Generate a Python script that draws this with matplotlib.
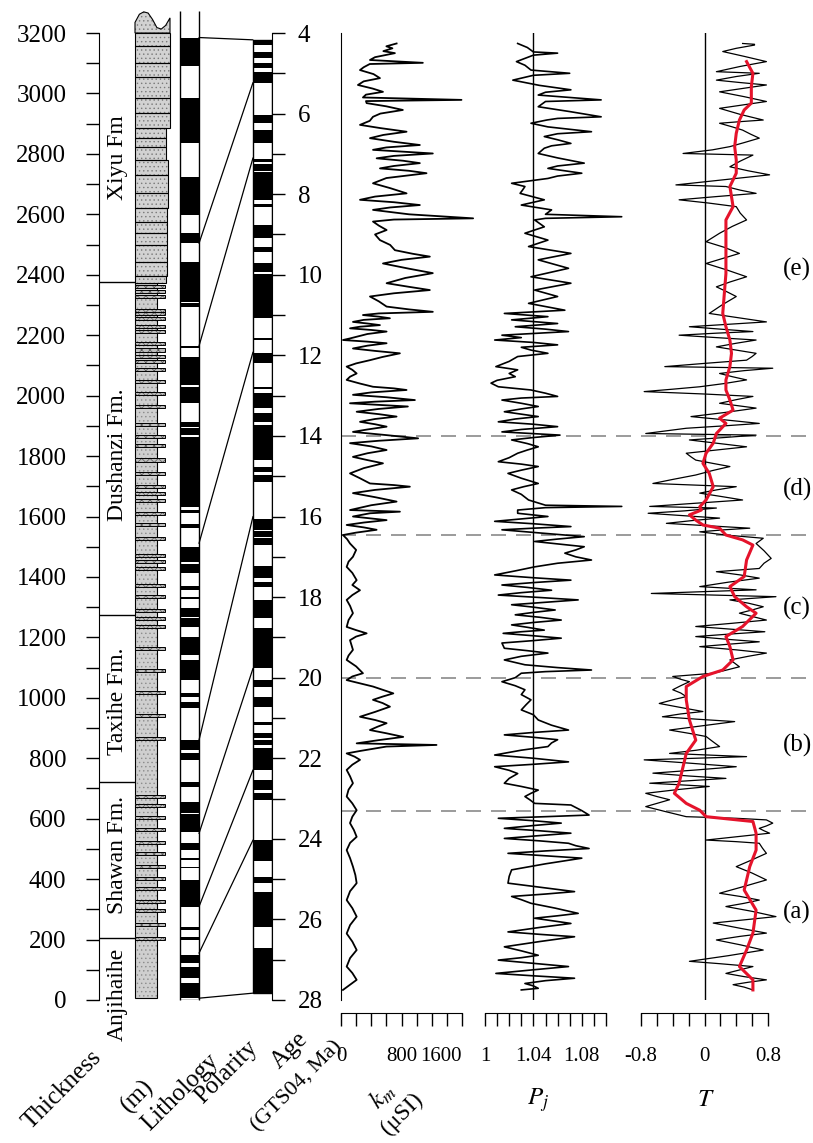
import numpy as np
import matplotlib.pyplot as plt
from matplotlib.patches import Rectangle, Polygon, ConnectionPatch

plt.rcParams['font.family'] = ['Liberation Serif', 'DejaVu Serif']
plt.rcParams['mathtext.fontset'] = 'stix'
plt.rcParams['hatch.linewidth'] = 0.5

# ---------------- data ----------------
# formation boundaries (m) and labels
fm_bounds = [205, 720, 1275, 2375]
fm_names = ['Anjihaihe', 'Shawan Fm.', 'Taxihe Fm.', 'Dushanzi Fm.', 'Xiyu Fm']
fm_label_m = [18, 480, 988, 1805, 2789]

# Xiyu Fm beds (m): bed bottoms and right edge of bed
xiyu_bot = [2372, 2396, 2443, 2498, 2537, 2575, 2620, 2669, 2730, 2780, 2824, 2851, 2884, 2934, 2984, 3055, 3102, 3157]
xiyu_top = [2396, 2443, 2498, 2537, 2575, 2620, 2669, 2730, 2780, 2824, 2851, 2884, 2934, 2984, 3055, 3102, 3157, 3200]
xiyu_w = [31, 32, 32, 32, 32, 32, 33, 33, 33, 31, 31, 31, 35, 35, 35, 35, 35, 35]
# irregular top of the section (m)
xiyu_crest = [3235, 3262, 3270, 3266, 3245, 3218, 3213, 3225, 3250]

# thin sandstone beds in the lower part (m)
sand_beds = [2361, 2344, 2327, 2283, 2272, 2256, 2228, 2211, 2173, 2151, 2131, 2112, 2085, 2046,
             2008, 1963, 1903, 1864, 1834, 1787, 1743, 1698, 1676, 1654, 1610, 1572, 1527, 1472,
             1450, 1428, 1373, 1334, 1290, 1263, 1235, 1163, 1091, 1017, 943, 866, 673, 643, 604,
             563, 522, 484, 442, 403, 370, 326, 296, 251, 204]

# local magnetostratigraphy, normal intervals (bottom, top) in m
pol_bot = [3091, 2837, 2598, 2504, 2310, 2292, 2157, 2035, 1975, 1897, 1870, 1632, 1612, 1561, 1450,
           1412, 1357, 1326, 1268, 1235, 1142, 1059, 1004, 965, 827, 794, 706, 620, 557, 496, 463,
           436, 309, 232, 199, 121, 72, 6]
pol_top = [3185, 2984, 2724, 2537, 2443, 2305, 2164, 2129, 2027, 1914, 1892, 1862, 1621, 1575, 1500,
           1443, 1370, 1335, 1296, 1264, 1202, 1125, 1015, 987, 860, 817, 722, 656, 615, 518, 469,
           441, 397, 243, 209, 149, 110, 55]

# GTS04 normal chrons (young, old) in Ma
gpts_y = [4.17, 4.46, 4.75, 4.96, 6.04, 6.41, 7.13, 7.25, 7.45, 8.24, 8.77, 9.30, 9.72, 9.98, 11.58,
          11.95, 12.78, 12.93, 13.43, 13.73, 14.76, 14.97, 16.05, 16.36, 16.53, 17.24, 17.62, 18.07,
          18.77, 20.06, 20.47, 21.09, 21.38, 21.55, 21.75, 22.54, 22.87, 24.03, 24.94, 25.31, 26.72]
gpts_o = [4.30, 4.63, 4.88, 5.23, 6.23, 6.74, 7.21, 7.43, 8.14, 8.31, 9.10, 9.43, 9.94, 11.08, 11.62,
          12.20, 12.84, 13.31, 13.65, 14.60, 14.89, 15.14, 16.33, 16.50, 16.71, 17.53, 17.74, 18.53,
          19.77, 20.22, 20.72, 21.17, 21.50, 21.67, 22.29, 22.79, 23.03, 24.56, 25.10, 26.18, 27.83]

# tie lines: thickness (m) <-> age (Ma)
tie_m = [3185, 2504, 2164, 1511, 860, 551, 309, 155, 6]
tie_age = [4.17, 5.23, 7.10, 11.92, 16.0, 19.77, 22.29, 24.03, 27.83]

# boundaries of intervals (a)-(e) in Ma
zone_bounds = [14.0, 16.45, 20.0, 23.3]
zone_names = ['(e)', '(d)', '(c)', '(b)', '(a)']
zone_label_age = [9.88, 15.34, 18.27, 21.67, 25.82]

# bulk susceptibility km (uSI)
km_age = [4.26, 4.33, 4.38, 4.45, 4.50, 4.60, 4.67, 4.74, 4.77, 4.85, 4.92, 5.02, 5.12, 5.20, 5.29, 5.38,
          5.46, 5.53, 5.60, 5.66, 5.69, 5.74, 5.82, 5.91, 6.00, 6.08, 6.18, 6.28, 6.36, 6.45, 6.53, 6.61,
          6.70, 6.78, 6.84, 6.90, 6.99, 7.05, 7.11, 7.17, 7.23, 7.30, 7.36, 7.42, 7.48, 7.60, 7.73, 7.85,
          7.98, 8.06, 8.14, 8.20, 8.27, 8.33, 8.39, 8.50, 8.60, 8.63, 8.68, 8.78, 8.89, 9.00, 9.14, 9.26,
          9.39, 9.48, 9.55, 9.63, 9.72, 9.85, 9.96, 10.08, 10.21, 10.30, 10.38, 10.46, 10.54, 10.66, 10.79,
          10.86, 10.92, 10.96, 11.00, 11.04, 11.08, 11.12, 11.17, 11.21, 11.25, 11.29, 11.33, 11.37, 11.41,
          11.47, 11.54, 11.58, 11.62, 11.66, 11.70, 11.76, 11.83, 11.89, 11.95, 12.04, 12.12, 12.20, 12.28,
          12.36, 12.45, 12.53, 12.61, 12.70, 12.78, 12.82, 12.86, 12.92, 12.98, 13.04, 13.11, 13.15, 13.19,
          13.23, 13.27, 13.33, 13.40, 13.46, 13.52, 13.58, 13.65, 13.71, 13.77, 13.84, 13.90, 13.98, 14.06,
          14.12, 14.18, 14.26, 14.35, 14.43, 14.52, 14.60, 14.68, 14.80, 14.93, 15.05, 15.18, 15.22, 15.26,
          15.34, 15.42, 15.52, 15.63, 15.72, 15.84, 15.88, 15.92, 16.00, 16.05, 16.09, 16.15, 16.21, 16.27,
          16.33, 16.40, 16.46, 16.56, 16.67, 16.83, 17.00, 17.12, 17.25, 17.40, 17.58, 17.70, 17.83, 17.95,
          18.07, 18.22, 18.40, 18.57, 18.74, 18.82, 18.90, 18.98, 19.07, 19.20, 19.31, 19.45, 19.56, 19.72,
          19.89, 19.97, 20.06, 20.14, 20.22, 20.30, 20.39, 20.47, 20.55, 20.63, 20.72, 20.85, 20.97, 21.05,
          21.13, 21.22, 21.30, 21.38, 21.47, 21.55, 21.63, 21.67, 21.71, 21.75, 21.82, 21.88, 21.96, 22.04,
          22.16, 22.29, 22.45, 22.62, 22.78, 22.95, 23.12, 23.29, 23.45, 23.61, 23.78, 23.95, 24.10, 24.28,
          24.48, 24.69, 24.90, 25.10, 25.30, 25.52, 25.72, 25.93, 26.14, 26.35, 26.55, 26.76, 26.96, 27.17,
          27.33, 27.50, 27.62, 27.75]
km_val = [735, 600, 680, 560, 713, 450, 383, 1082, 380, 300, 251, 430, 515, 300, 224, 420,
          555, 330, 290, 1593, 330, 339, 600, 818, 520, 423, 380, 251, 520, 867, 560, 383,
          700, 1043, 600, 423, 1214, 700, 471, 820, 1043, 700, 515, 900, 1131, 600, 423, 650,
          867, 450, 251, 700, 1043, 650, 423, 900, 1747, 700, 423, 500, 603, 450, 515, 650,
          713, 950, 1175, 800, 555, 900, 1214, 850, 603, 900, 1175, 700, 383, 500, 603,
          900, 1214, 500, 290, 500, 647, 300, 158, 350, 515, 250, 119, 400, 603,
          350, 207, 120, 26, 350, 603, 350, 158, 450, 779, 550, 383, 200, 75,
          150, 207, 120, 75, 250, 423, 700, 867, 400, 158, 600, 977, 450, 119,
          500, 884, 500, 207, 500, 735, 450, 251, 450, 603, 350, 158, 600, 1020,
          500, 119, 400, 603, 350, 158, 350, 555, 300, 119, 250, 383, 700, 911,
          450, 158, 450, 735, 400, 119, 779, 383, 158, 400, 603, 300, 75, 300,
          471, 200, 26, 80, 119, 200, 158, 100, 75, 150, 207, 150, 251, 150,
          75, 120, 158, 100, 75, 200, 339, 200, 119, 140, 158, 100, 75, 200,
          290, 150, 75, 250, 423, 550, 692, 550, 423, 550, 647, 450, 251, 450,
          603, 480, 383, 600, 823, 500, 207, 1263, 600, 471, 250, 75, 180, 251,
          150, 75, 120, 158, 100, 75, 150, 207, 150, 119, 170, 207, 120, 75,
          120, 158, 190, 207, 120, 75, 150, 207, 120, 75, 150, 207, 120, 75,
          150, 207, 120, 26]

# degree of anisotropy Pj
pj_age = [4.26, 4.36, 4.47, 4.50, 4.55, 4.71, 4.80, 4.92, 5.00, 5.05, 5.17, 5.30, 5.41, 5.47, 5.54, 5.66,
          5.70, 5.83, 5.95, 6.08, 6.12, 6.16, 6.24, 6.33, 6.45, 6.50, 6.57, 6.65, 6.74, 6.80, 6.86, 6.99,
          7.10, 7.23, 7.30, 7.36, 7.48, 7.55, 7.61, 7.73, 7.81, 7.90, 7.98, 8.14, 8.27, 8.39, 8.50, 8.56,
          8.60, 8.64, 8.81, 8.97, 9.14, 9.30, 9.47, 9.63, 9.84, 10.05, 10.21, 10.38, 10.54, 10.71, 10.88,
          10.96, 11.04, 11.12, 11.21, 11.29, 11.35, 11.41, 11.50, 11.56, 11.62, 11.68, 11.74, 11.80, 11.87,
          11.95, 12.03, 12.15, 12.28, 12.36, 12.45, 12.53, 12.62, 12.69, 12.78, 12.86, 12.94, 13.02, 13.06,
          13.11, 13.19, 13.27, 13.33, 13.40, 13.46, 13.52, 13.58, 13.65, 13.71, 13.77, 13.84, 13.90, 13.98,
          14.04, 14.10, 14.19, 14.27, 14.35, 14.43, 14.54, 14.64, 14.70, 14.76, 14.85, 14.93, 15.05, 15.18,
          15.26, 15.34, 15.45, 15.59, 15.72, 15.75, 15.78, 15.84, 15.92, 16.00, 16.06, 16.12, 16.18, 16.25,
          16.29, 16.33, 16.42, 16.50, 16.56, 16.62, 16.68, 16.75, 16.83, 16.91, 17.00, 17.08, 17.16, 17.25,
          17.35, 17.45, 17.52, 17.58, 17.64, 17.70, 17.76, 17.83, 17.89, 17.95, 18.01, 18.07, 18.13, 18.19,
          18.25, 18.32, 18.38, 18.44, 18.50, 18.57, 18.63, 18.69, 18.75, 18.82, 18.86, 18.90, 18.96, 19.02,
          19.08, 19.14, 19.27, 19.33, 19.39, 19.47, 19.56, 19.68, 19.75, 19.81, 19.85, 19.89, 20.00, 20.10,
          20.20, 20.30, 20.42, 20.55, 20.67, 20.80, 20.92, 21.05, 21.18, 21.30, 21.36, 21.42, 21.48, 21.54,
          21.62, 21.71, 21.80, 21.92, 22.00, 22.09, 22.15, 22.21, 22.30, 22.38, 22.50, 22.62, 22.70, 22.79,
          22.87, 22.95, 23.03, 23.12, 23.16, 23.30, 23.41, 23.45, 23.49, 23.55, 23.61, 23.67, 23.74, 23.80,
          23.86, 23.92, 23.99, 24.05, 24.11, 24.17, 24.24, 24.30, 24.36, 24.42, 24.48, 24.62, 24.77, 24.93,
          25.10, 25.20, 25.31, 25.37, 25.43, 25.51, 25.60, 25.72, 25.85, 25.91, 25.97, 26.03, 26.10, 26.20,
          26.31, 26.37, 26.43, 26.55, 26.68, 26.78, 26.89, 26.95, 27.01, 27.09, 27.17, 27.25, 27.34, 27.40,
          27.46, 27.52, 27.59, 27.65, 27.71, 27.75]
pj_val = [1.027, 1.035, 1.040, 1.060, 1.040, 1.026, 1.033, 1.038, 1.070, 1.040, 1.023, 1.045, 1.071, 1.050, 1.044, 1.096,
          1.050, 1.044, 1.070, 1.096, 1.060, 1.051, 1.038, 1.052, 1.088, 1.060, 1.049, 1.060, 1.071, 1.055, 1.049, 1.044,
          1.060, 1.082, 1.060, 1.052, 1.080, 1.060, 1.052, 1.022, 1.033, 1.031, 1.029, 1.049, 1.030, 1.055, 1.050, 1.113,
          1.050, 1.041, 1.049, 1.033, 1.052, 1.036, 1.071, 1.044, 1.069, 1.038, 1.071, 1.041, 1.060, 1.036, 1.066,
          1.016, 1.052, 1.022, 1.060, 1.025, 1.050, 1.069, 1.014, 1.030, 1.008, 1.040, 1.060, 1.030, 1.038,
          1.052, 1.027, 1.020, 1.009, 1.027, 1.020, 1.025, 1.010, 1.005, 1.011, 1.038, 1.050, 1.060, 1.030,
          1.014, 1.030, 1.044, 1.030, 1.016, 1.030, 1.044, 1.025, 1.011, 1.040, 1.060, 1.030, 1.014, 1.062,
          1.040, 1.022, 1.035, 1.044, 1.035, 1.027, 1.020, 1.011, 1.030, 1.044, 1.030, 1.019, 1.030, 1.044,
          1.032, 1.022, 1.030, 1.036, 1.050, 1.113, 1.050, 1.027, 1.027, 1.052, 1.030, 1.008, 1.040, 1.071,
          1.040, 1.014, 1.050, 1.082, 1.060, 1.041, 1.060, 1.082, 1.075, 1.066, 1.075, 1.088, 1.060, 1.041,
          1.025, 1.008, 1.040, 1.071, 1.040, 1.014, 1.035, 1.055, 1.030, 1.011, 1.045, 1.077, 1.050, 1.022,
          1.040, 1.058, 1.040, 1.025, 1.045, 1.063, 1.040, 1.022, 1.035, 1.049, 1.030, 1.015, 1.040, 1.063,
          1.040, 1.014, 1.016, 1.035, 1.052, 1.030, 1.016, 1.033, 1.060, 1.088, 1.050, 1.030, 1.025, 1.014,
          1.025, 1.033, 1.030, 1.038, 1.034, 1.030, 1.040, 1.044, 1.055, 1.069, 1.040, 1.016, 1.040, 1.060,
          1.055, 1.052, 1.030, 1.008, 1.040, 1.069, 1.040, 1.008, 1.020, 1.027, 1.020, 1.016, 1.030, 1.044,
          1.038, 1.033, 1.037, 1.041, 1.071, 1.080, 1.086, 1.050, 1.011, 1.040, 1.063, 1.040, 1.016, 1.045,
          1.071, 1.045, 1.016, 1.045, 1.069, 1.075, 1.086, 1.050, 1.019, 1.050, 1.080, 1.050, 1.022, 1.020,
          1.019, 1.045, 1.074, 1.050, 1.022, 1.030, 1.038, 1.058, 1.077, 1.060, 1.041, 1.055, 1.071, 1.045,
          1.019, 1.045, 1.074, 1.045, 1.016, 1.030, 1.044, 1.030, 1.011, 1.040, 1.069, 1.040, 1.009, 1.040,
          1.074, 1.050, 1.033, 1.040, 1.044, 1.030]

# shape parameter T
t_age = [4.26, 4.28, 4.30, 4.38, 4.46, 4.58, 4.71, 4.83, 4.96, 5.00, 5.08, 5.17, 5.23, 5.29, 5.37, 5.46,
         5.58, 5.70, 5.78, 5.87, 6.02, 6.16, 6.20, 6.24, 6.33, 6.41, 6.51, 6.61, 6.72, 6.82, 6.90, 6.99,
         7.03, 7.18, 7.32, 7.42, 7.52, 7.64, 7.77, 7.81, 7.90, 7.98, 8.06, 8.14, 8.22, 8.31, 8.47, 8.64,
         8.80, 8.97, 9.08, 9.18, 9.32, 9.47, 9.60, 9.72, 9.88, 10.05, 10.18, 10.30, 10.42, 10.54, 10.75,
         10.96, 11.06, 11.17, 11.23, 11.29, 11.35, 11.41, 11.45, 11.50, 11.56, 11.62, 11.70, 11.79, 11.87,
         11.95, 12.03, 12.12, 12.20, 12.28, 12.32, 12.38, 12.45, 12.53, 12.61, 12.70, 12.78, 12.84, 12.90,
         12.96, 13.02, 13.10, 13.19, 13.25, 13.31, 13.42, 13.52, 13.60, 13.69, 13.75, 13.81, 13.88, 13.94,
         13.98, 14.04, 14.10, 14.18, 14.27, 14.35, 14.43, 14.52, 14.60, 14.68, 14.76, 14.86, 14.97, 15.08,
         15.18, 15.26, 15.34, 15.42, 15.50, 15.59, 15.67, 15.75, 15.79, 15.86, 15.92, 15.98, 16.04, 16.10,
         16.17, 16.23, 16.29, 16.33, 16.38, 16.46, 16.54, 16.67, 16.85, 17.04, 17.16, 17.29, 17.37, 17.45,
         17.53, 17.63, 17.74, 17.82, 17.91, 17.99, 18.07, 18.15, 18.24, 18.32, 18.40, 18.48, 18.57, 18.65,
         18.73, 18.80, 18.86, 18.92, 18.98, 19.05, 19.11, 19.17, 19.23, 19.31, 19.39, 19.47, 19.56, 19.64,
         19.73, 19.81, 19.89, 19.97, 20.04, 20.10, 20.20, 20.30, 20.38, 20.47, 20.55, 20.64, 20.74, 20.84,
         20.90, 20.97, 21.03, 21.09, 21.20, 21.30, 21.38, 21.46, 21.58, 21.71, 21.80, 21.88, 21.96, 22.04,
         22.12, 22.21, 22.29, 22.37, 22.44, 22.50, 22.56, 22.62, 22.66, 22.70, 22.78, 22.87, 22.95, 23.03,
         23.12, 23.20, 23.32, 23.45, 23.49, 23.53, 23.61, 23.68, 23.74, 23.80, 23.86, 23.95, 24.03, 24.07,
         24.11, 24.23, 24.36, 24.52, 24.69, 24.85, 25.02, 25.18, 25.35, 25.43, 25.52, 25.60, 25.68, 25.80,
         25.93, 26.01, 26.09, 26.22, 26.34, 26.42, 26.51, 26.63, 26.76, 26.90, 27.04, 27.10, 27.17, 27.25,
         27.34, 27.42, 27.50, 27.56, 27.62, 27.68, 27.75]
t_val = [0.48, 0.63, 0.63, 0.40, 0.23, 0.50, 0.78, 0.45, 0.15, 0.69, 0.40, 0.15, 0.45, 0.78, 0.50, 0.19,
         0.50, 0.78, 0.50, 0.19, 0.45, 0.74, 0.45, 0.19, 0.35, 0.48, 0.58, 0.69, 0.50, 0.32, 0.10, -0.27,
         0.61, 0.45, 0.32, 0.55, 0.82, 0.25, -0.36, 0.27, 0.45, 0.65, 0.15, -0.32, 0.05, 0.40, 0.45, 0.53,
         0.35, 0.19, 0.10, 0.02, 0.25, 0.44, 0.22, 0.02, 0.28, 0.53, 0.32, 0.15, 0.28, 0.40, 0.22,
         0.06, 0.40, 0.78, 0.30, -0.19, 0.20, 0.61, 0.15, -0.32, 0.15, 0.65, 0.40, 0.15, 0.40,
         0.65, 0.60, 0.53, 0.00, -0.50, 0.86, 0.50, 0.19, 0.35, 0.53, 0.25, -0.06, -0.40, -0.76,
         0.00, 0.61, 0.40, 0.19, 0.42, 0.65, 0.25, -0.17, 0.25, 0.69, 0.25, -0.23, -0.50, -0.74,
         0.65, 0.25, -0.19, 0.15, 0.53, 0.15, -0.23, -0.17, -0.11, 0.10, 0.32, 0.10, -0.11, -0.40,
         -0.65, 0.40, 0.15, -0.06, 0.20, 0.48, -0.10, -0.69, 0.15, -0.25, -0.71, -0.25, 0.19, -0.15,
         -0.48, 0.05, 0.57, 0.25, -0.06, 0.27, 0.74, 0.65, 0.75, 0.84, 0.75, 0.69, 0.15, 0.45,
         0.69, 0.30, -0.06, 0.65, -0.67, 0.90, 0.32, 0.55, 0.74, 0.60, 0.44, 0.60, 0.78, 0.35,
         -0.11, 0.35, 0.76, 0.30, -0.11, 0.30, 0.69, 0.30, -0.06, 0.40, 0.78, 0.55, 0.32, 0.38,
         0.44, 0.28, 0.11, -0.40, -0.30, -0.19, -0.30, -0.40, -0.30, -0.23, -0.40, -0.57, -0.30, -0.02,
         -0.30, -0.53, -0.10, 0.38, -0.05, -0.44, -0.20, 0.02, 0.10, 0.19, -0.10, -0.44, 0.53, -0.76,
         -0.20, 0.40, -0.10, -0.65, -0.20, 0.27, -0.20, -0.69, -0.30, 0.06, -0.35, -0.74, -0.60, -0.44,
         -0.60, -0.74, -0.50, -0.23, 0.40, 0.78, 0.86, 0.78, 0.69, 0.75, 0.82, 0.40, 0.02, 0.40,
         0.69, 0.73, 0.78, 0.60, 0.40, 0.60, 0.78, 0.50, 0.19, 0.45, 0.69, 0.50, 0.27, 0.60,
         0.90, 0.50, 0.11, 0.45, 0.78, 0.45, 0.15, 0.45, 0.74, 0.30, -0.19, 0.20, 0.61, 0.45,
         0.27, 0.50, 0.78, 0.55, 0.36, 0.50, 0.61]

# running mean of T (red)
ts_age = [4.71, 5.00, 5.33, 5.74, 5.91, 6.16, 6.49, 6.82, 7.15, 7.48, 7.81, 8.31, 8.64, 9.06, 9.47, 9.97,
          10.46, 10.96, 11.29, 11.62, 11.95, 12.28, 12.61, 12.86, 13.11, 13.36, 13.56, 13.69, 13.94, 14.18,
          14.43, 14.68, 14.93, 15.26, 15.59, 15.76, 15.84, 15.96, 16.09, 16.21, 16.29, 16.46, 16.58, 16.71,
          17.08, 17.49, 17.74, 17.99, 18.24, 18.40, 18.73, 18.98, 19.23, 19.56, 19.81, 19.97, 20.22, 20.55,
          21.05, 21.55, 21.88, 22.21, 22.62, 22.87, 23.12, 23.29, 23.45, 23.57, 23.86, 24.28, 24.69, 25.27,
          25.77, 26.34, 26.76, 27.17, 27.50, 27.75]
ts_val = [0.53, 0.61, 0.59, 0.59, 0.50, 0.44, 0.40, 0.38, 0.40, 0.40, 0.32, 0.36, 0.27, 0.27, 0.27, 0.27,
          0.25, 0.23, 0.27, 0.32, 0.34, 0.32, 0.27, 0.27, 0.32, 0.36, 0.19, 0.27, 0.15, 0.11,
          0.02, -0.02, 0.06, 0.11, 0.02, -0.06, -0.04, -0.19, -0.11, -0.02, 0.19, 0.27, 0.48, 0.61,
          0.53, 0.50, 0.32, 0.38, 0.53, 0.65, 0.48, 0.27, 0.32, 0.36, 0.23, -0.02, -0.23, -0.23,
          -0.19, -0.11, -0.23, -0.27, -0.32, -0.38, -0.23, -0.06, 0.02, 0.61, 0.65, 0.65, 0.57, 0.50,
          0.65, 0.61, 0.53, 0.44, 0.61, 0.61]

# ---------------- figure ----------------
W, H = 813, 1143
fig = plt.figure(figsize=(W / 100, H / 100), dpi=100)
TOP, BOT = 33, 1000          # pixel rows of 3200 m / 4 Ma and 0 m / 28 Ma


def frame(x0, x1):
    return [x0 / W, 1 - BOT / H, (x1 - x0) / W, (BOT - TOP) / H]


FS = 18
tick_kw = dict(direction='out', length=9.5, width=1.0, labelsize=FS)

# overlay used for the interval boundaries and labels
ax_o = fig.add_axes(frame(341, 813))
ax_o.set_xlim(341, 813)
ax_o.set_ylim(28, 4)
ax_o.axis('off')
ax_o.hlines(zone_bounds, 341, 813, colors='#8a8a8a', linestyles=(0, (9, 6)), lw=1.2)
for name, a in zip(zone_names, zone_label_age):
    ax_o.text(797, a, name, ha='center', va='center', fontsize=FS)

# ---- thickness / lithology / polarity block ----
ax_th = fig.add_axes(frame(99, 272))
ax_th.set_xlim(99, 272)
ax_th.set_ylim(0, 3200)
for s in ['top', 'right', 'bottom']:
    ax_th.spines[s].set_visible(False)
ax_th.set_xticks([])
ax_th.set_yticks(np.arange(0, 3201, 200))
ax_th.set_yticks(np.arange(100, 3200, 200), minor=True)
ax_th.tick_params(axis='y', which='both', pad=14, **tick_kw)

# formation boundaries and names
ax_th.hlines(fm_bounds, 99, 135, colors='k', lw=1.0)
for name, m in zip(fm_names, fm_label_m):
    ax_th.text(117, m, name, rotation=90, ha='center', va='center', fontsize=17, clip_on=False)

# lithology: lower narrow column
ax_th.bar(135, 2372 - 6, bottom=6, width=22, align='edge', color='#cfcfcf',
          edgecolor='#8c8c8c', hatch='....', lw=0)
ax_th.bar(135, 2372 - 6, bottom=6, width=22, align='edge', fill=False, edgecolor='k', lw=0.8)
sb = np.array(sand_beds)
ax_th.bar(np.full(sb.size, 135), 10, bottom=sb - 5, width=30, align='edge', color='#bdbdbd',
          edgecolor='#555555', hatch='xxxx', lw=0)
ax_th.bar(np.full(sb.size, 135), 10, bottom=sb - 5, width=30, align='edge', fill=False,
          edgecolor='k', lw=0.7)

# lithology: Xiyu conglomerate beds
xb = np.array(xiyu_bot)
xt = np.array(xiyu_top)
ax_th.bar(np.full(xb.size, 135), xt - xb, bottom=xb, width=xiyu_w, align='edge', color='#d2d2d2',
          edgecolor='#7a7a7a', hatch='....', lw=0)
ax_th.bar(np.full(xb.size, 135), xt - xb, bottom=xb, width=xiyu_w, align='edge', fill=False,
          edgecolor='k', lw=0.8)
crest_x = np.linspace(135, 170, len(xiyu_crest))
crest = np.column_stack([np.r_[135, crest_x, 170], np.r_[3200, xiyu_crest, 3200]])
ax_th.add_patch(Polygon(crest, closed=True, fc='#d2d2d2', ec='#7a7a7a', hatch='....', lw=0, clip_on=False))
ax_th.add_patch(Polygon(crest, closed=True, fill=False, ec='k', lw=0.8, clip_on=False))

# polarity column
pb = np.array(pol_bot)
pt = np.array(pol_top)
ax_th.bar(np.full(pb.size, 180), pt - pb, bottom=pb, width=19, align='edge', color='k', lw=0)
ax_th.vlines([180, 199], 0, 3273, colors='k', lw=1.0, clip_on=False)
ax_th.hlines([0], 180, 199, colors='k', lw=1.0)

# ---- age axis + GTS04 ----
ax_age = ax_th.twinx()
ax_age.set_ylim(28, 4)
for s in ['top', 'left', 'bottom']:
    ax_age.spines[s].set_visible(False)
ax_age.set_yticks(np.arange(4, 29, 2))
ax_age.set_yticks(np.arange(5, 28, 2), minor=True)
ax_age.tick_params(axis='y', which='both', pad=9, **tick_kw)
gy = np.array(gpts_y)
go = np.array(gpts_o)
ax_age.bar(np.full(gy.size, 253), go - gy, bottom=gy, width=19, align='edge', color='k', lw=0)
ax_age.add_patch(Rectangle((253, 4.17), 19, 27.83 - 4.17, fill=False, ec='k', lw=1.0))

for m, a in zip(tie_m, tie_age):
    con = ConnectionPatch(xyA=(199, m), coordsA=ax_th.transData, xyB=(253, a),
                          coordsB=ax_age.transData, color='k', lw=0.9)
    fig.add_artist(con)

# ---- AMS panels ----
def panel(x0, x1, xlim, major, minor, labels):
    ax = fig.add_axes(frame(x0, x1), facecolor='none')
    ax.set_xlim(*xlim)
    ax.set_ylim(28, 4)
    for s in ['top', 'right', 'left']:
        ax.spines[s].set_visible(False)
    ax.spines['bottom'].set_position(('outward', 9))
    ax.set_yticks([])
    ax.set_xticks(major)
    ax.set_xticklabels(labels)
    ax.set_xticks(minor, minor=True)
    ax.tick_params(axis='x', which='both', direction='out', length=9, width=1.0,
                   labelsize=15, pad=16)
    return ax


ax_k = panel(341, 462, (0, 1600), [0, 800, 1600], np.arange(0, 1601, 200), ['0', '800', '1600'])
ax_k.spines['left'].set_visible(True)
ax_k.get_xticklabels()[-1].set_horizontalalignment('right')
ax_k.plot(km_val, km_age, color='k', lw=1.3, clip_on=False)

ax_p = panel(485, 606, (1.0, 1.1), [1.0, 1.04, 1.08], np.arange(1.0, 1.1001, 0.01), ['1', '1.04', '1.08'])
ax_p.axvline(1.04, color='k', lw=1.0)
ax_p.plot(pj_val, pj_age, color='k', lw=1.2, clip_on=False)

ax_t = panel(641, 768, (-0.8, 0.8), [-0.8, 0, 0.8], np.arange(-0.8, 0.801, 0.2), ['-0.8', '0', '0.8'])
ax_t.axvline(0, color='k', lw=1.0)
ax_t.plot(t_val, t_age, color='k', lw=0.9, clip_on=False)
ax_t.plot(ts_val, ts_age, color='#e5132b', lw=2.2, clip_on=False)

# ---- column titles ----
def ftext(x, y, s, rot=45, fs=FS, **kw):
    fig.text(x / W, 1 - y / H, s, rotation=rot, ha='center', va='center', fontsize=fs,
             rotation_mode='anchor', **kw)


ftext(62, 1090, 'Thickness')
ftext(138, 1096, '(m)')
ftext(180, 1092, 'Lithology')
ftext(226, 1072, 'Polarity')
ftext(290, 1050, 'Age')
ftext(297, 1086, '(GTS04, Ma)', fs=16)
ftext(382, 1096, r'$k_m$')
ftext(402, 1114, '(μSI)', fs=17)
ftext(538, 1100, r'$P_j$', rot=0)
ftext(706, 1100, r'$T$', rot=0)

fig.savefig('out.png', dpi=100)
